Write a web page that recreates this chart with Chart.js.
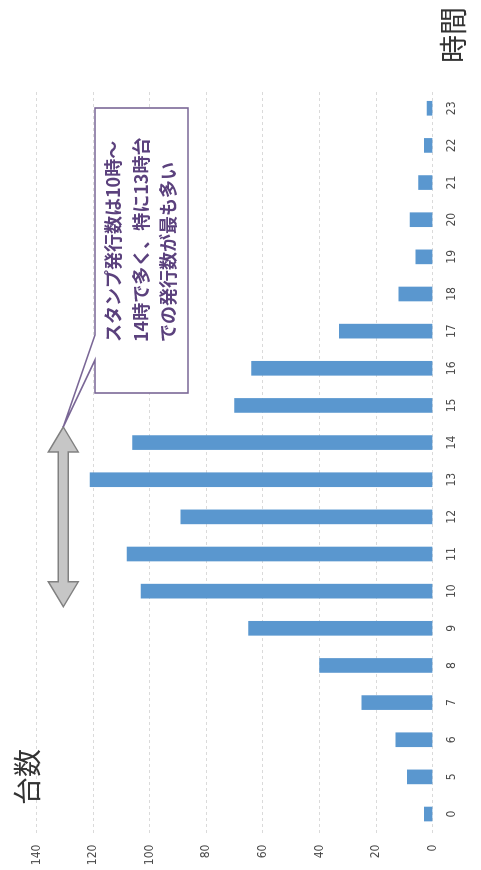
<!DOCTYPE html>
<html lang="ja">
<head>
<meta charset="utf-8">
<title>時間帯別スタンプ発行台数</title>
<script src="https://cdn.jsdelivr.net/npm/chart.js@4.4.1/dist/chart.umd.min.js"></script>
<style>
  html, body { margin: 0; padding: 0; background: #fff; }
  body { width: 481px; height: 870px; overflow: hidden; position: relative; }
  /* グラフは横向きに置かれているので、キャンバスごと回転させる */
  #wrap {
    position: absolute; left: 0; top: 0;
    width: 870px; height: 481px;
    transform-origin: 0 0;
    transform: translateY(870px) rotate(-90deg);
  }
</style>
</head>
<body>
<div id="wrap"><canvas id="chart" width="870" height="481"></canvas></div>
<script>
// データ
const hours = ['0', '5', '6', '7', '8', '9', '10', '11', '12', '13', '14', '15', '16', '17', '18', '19', '20', '21', '22', '23'];
const counts = [3, 9, 13, 25, 40, 65, 103, 108, 89, 121, 106, 70, 64, 33, 12, 6, 8, 5, 3, 2];
const valueTicks = [0, 20, 40, 60, 80, 100, 120, 140];
const valueTitle = '台数';
const hourTitle = '時間';
const noteLines = ['スタンプ発行数は10時～', '14時で多く、特に13時台', 'での発行数が最も多い'];
const peakFrom = '10';
const peakTo = '14';

const TICK_FONT = "'Liberation Sans Narrow', 'DejaVu Sans Condensed', 'Liberation Sans', sans-serif";
const JP_FONT = "'Noto Sans CJK JP', 'Noto Sans', sans-serif";

// 両方向矢印
function drawDoubleArrow(ctx, x1, x2, y) {
  const head = 25, hw = 15, sw = 5;
  ctx.beginPath();
  ctx.moveTo(x1, y);
  ctx.lineTo(x1 + head, y - hw);
  ctx.lineTo(x1 + head, y - sw);
  ctx.lineTo(x2 - head, y - sw);
  ctx.lineTo(x2 - head, y - hw);
  ctx.lineTo(x2, y);
  ctx.lineTo(x2 - head, y + hw);
  ctx.lineTo(x2 - head, y + sw);
  ctx.lineTo(x1 + head, y + sw);
  ctx.lineTo(x1 + head, y + hw);
  ctx.closePath();
  ctx.fillStyle = '#c6c6c6';
  ctx.fill();
  ctx.lineWidth = 1.5;
  ctx.strokeStyle = '#808080';
  ctx.stroke();
}

// 吹き出しとタイトル
const notePlugin = {
  id: 'notes',
  afterDraw(chart) {
    const ctx = chart.ctx;
    const xs = chart.scales.x;
    const ys = chart.scales.y;
    const band = xs.getPixelForValue(1) - xs.getPixelForValue(0);

    // 軸タイトル
    ctx.save();
    ctx.fillStyle = '#333';
    ctx.font = '28px ' + JP_FONT;
    ctx.textBaseline = 'middle';
    ctx.textAlign = 'left';
    ctx.fillText(valueTitle, 65, 27);
    ctx.fillText(hourTitle, 807, 453);
    ctx.restore();

    // 矢印 10時～14時
    const ax1 = xs.getPixelForValue(hours.indexOf(peakFrom)) - band * 0.42;
    const ax2 = xs.getPixelForValue(hours.indexOf(peakTo)) + band * 0.42;
    const ay = ys.getPixelForValue(130.5);
    ctx.save();
    drawDoubleArrow(ctx, ax1, ax2, ay);
    ctx.restore();

    // 吹き出し
    const bx = 477, by = 95, bw = 285, bh = 93;
    ctx.save();
    ctx.beginPath();
    ctx.moveTo(bx, by);
    ctx.lineTo(510, by);
    ctx.lineTo(ax2, ay);
    ctx.lineTo(535, by);
    ctx.lineTo(bx + bw, by);
    ctx.lineTo(bx + bw, by + bh);
    ctx.lineTo(bx, by + bh);
    ctx.closePath();
    ctx.fillStyle = '#fff';
    ctx.fill();
    ctx.lineWidth = 1.6;
    ctx.strokeStyle = '#7a6796';
    ctx.stroke();

    ctx.fillStyle = '#5b417d';
    ctx.font = 'bold 18px ' + JP_FONT;
    ctx.textBaseline = 'middle';
    ctx.textAlign = 'left';
    const lineY = [113.5, 141.5, 168.5];
    noteLines.forEach((t, i) => ctx.fillText(t, 528, lineY[i]));
    ctx.restore();
  }
};

new Chart(document.getElementById('chart'), {
  type: 'bar',
  data: {
    labels: hours,
    datasets: [{
      data: counts,
      backgroundColor: '#5a97cf',
      barThickness: 14,
    }],
  },
  options: {
    responsive: false,
    animation: false,
    devicePixelRatio: 1,
    layout: { padding: { top: 36.4, right: 89.7, left: 0, bottom: 0 } },
    plugins: {
      legend: { display: false },
      tooltip: { enabled: false },
    },
    scales: {
      x: {
        grid: { display: false, drawTicks: false },
        border: { display: false },
        ticks: {
          padding: 12,
          color: '#4a4a4a',
          font: { family: TICK_FONT, size: 12 },
          maxRotation: 0,
          autoSkip: false,
        },
        afterFit(scale) { scale.height = 48.3; },
      },
      y: {
        min: 0,
        max: 140,
        grid: { color: '#dadada', drawTicks: false },
        border: { display: false, dash: [3, 3] },
        ticks: {
          padding: 12,
          color: '#4a4a4a',
          font: { family: TICK_FONT, size: 12 },
        },
        afterBuildTicks(scale) {
          scale.ticks = valueTicks.map(v => ({ value: v }));
        },
        afterFit(scale) { scale.width = 37.4; },
      },
    },
  },
  plugins: [notePlugin],
});
</script>
</body>
</html>
